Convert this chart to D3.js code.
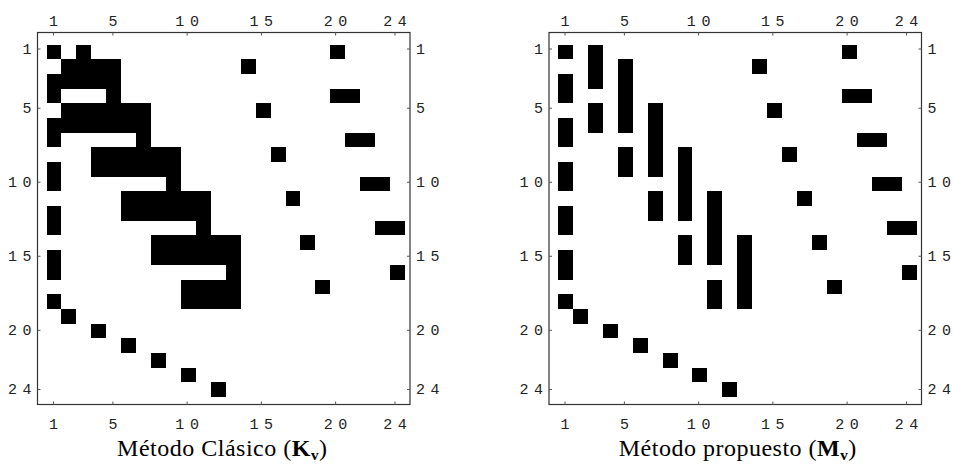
<!DOCTYPE html>
<html>
<head>
<meta charset="utf-8">
<script src="https://cdn.jsdelivr.net/npm/d3@7"></script>
<style>
  html, body { margin: 0; padding: 0; background: #fff; }
  svg { display: block; }
</style>
</head>
<body>
<svg id="chart" width="953" height="471"></svg>
<script>
// ---- data ----
const tickValues = [1, 5, 10, 15, 20, 24];
const matrixSize = 24;

// Método Clásico (K_v): horizontal runs [row, colStart, colEnd]
const kRuns = [
  [1,1,1],[1,3,3],[1,20,20],
  [2,2,5],[2,14,14],
  [3,1,5],
  [4,1,1],[4,5,5],[4,20,21],
  [5,2,7],[5,15,15],
  [6,1,7],
  [7,1,1],[7,7,7],[7,21,22],
  [8,4,9],[8,16,16],
  [9,1,1],[9,4,9],
  [10,1,1],[10,9,9],[10,22,23],
  [11,6,11],[11,17,17],
  [12,1,1],[12,6,11],
  [13,1,1],[13,11,11],[13,23,24],
  [14,8,13],[14,18,18],
  [15,1,1],[15,8,13],
  [16,1,1],[16,13,13],[16,24,24],
  [17,10,13],[17,19,19],
  [18,1,1],[18,10,13],
  [19,2,2],[20,4,4],[21,6,6],[22,8,8],[23,10,10],[24,12,12]
];

// Método propuesto (M_v): vertical runs [col, rowStart, rowEnd]
const mRuns = [
  [1,1,1],[1,3,4],[1,6,7],[1,9,10],[1,12,13],[1,15,16],[1,18,18],
  [3,1,3],[3,5,6],
  [5,2,6],[5,8,9],
  [7,5,9],[7,11,12],
  [9,8,12],[9,14,15],
  [11,11,15],[11,17,18],
  [13,14,18],
  [2,19,19],[4,20,20],[6,21,21],[8,22,22],[10,23,23],[12,24,24],
  [20,1,1],[14,2,2],[20,4,4],[21,4,4],[15,5,5],[21,7,7],[22,7,7],
  [16,8,8],[22,10,10],[23,10,10],[17,11,11],[23,13,13],[24,13,13],
  [18,14,14],[24,16,16],[19,17,17]
];

const titleParts = [
  { pre: "Método Clásico (", bold: "K", sub: "v", post: ")" },
  { pre: "Método propuesto (", bold: "M", sub: "v", post: ")" }
];

// ---- layout ----
const svg = d3.select("#chart");
const panels = [
  { ox: 0,     runs: kRuns, horizontal: true,  title: titleParts[0], tdx: 0 },
  { ox: 511.5, runs: mRuns, horizontal: false, title: titleParts[1], tdx: 4 }
];

const LS = 5.5; // gap between digits of tick labels

panels.forEach(p => {
  const g = svg.append("g").attr("transform", `translate(${p.ox},0)`);
  const fx0 = 37, fx1 = 409.5, fy0 = 32, fy1 = 404;

  const cellX = d3.scaleLinear().domain([0.5, matrixSize + 0.5]).range([46.5, 405]);
  const cellY = d3.scaleLinear().domain([0.5, matrixSize + 0.5]).range([44.5, 397]);
  const tickX = d3.scaleLinear().domain([1, matrixSize]).range([53, 394.5]);
  const tickY = d3.scaleLinear().domain([1, matrixSize]).range([48.5, 389]);

  // cells
  g.append("g").selectAll("rect").data(p.runs).join("rect")
    .attr("shape-rendering", "crispEdges")
    .attr("fill", "#000")
    .attr("x", d => p.horizontal ? cellX(d[1] - 0.5) : cellX(d[0] - 0.5))
    .attr("width", d => p.horizontal ? cellX(d[2] + 0.5) - cellX(d[1] - 0.5) : cellX(d[0] + 0.5) - cellX(d[0] - 0.5))
    .attr("y", d => p.horizontal ? cellY(d[0] - 0.5) : cellY(d[1] - 0.5))
    .attr("height", d => p.horizontal ? cellY(d[0] + 0.5) - cellY(d[0] - 0.5) : cellY(d[2] + 0.5) - cellY(d[1] - 0.5));

  // frame
  g.append("rect")
    .attr("x", fx0 + 0.5).attr("y", fy0 + 0.5)
    .attr("width", fx1 - fx0).attr("height", fy1 - fy0)
    .attr("fill", "none").attr("stroke", "#333").attr("stroke-width", 1.2);

  const styleAxis = (sel) => {
    sel.select(".domain").remove();
    sel.selectAll(".tick line").attr("stroke", "#555");
    sel.selectAll(".tick text")
      .attr("font-family", "'Liberation Mono', 'Courier New', monospace")
      .attr("font-size", 15)
      .attr("fill", "#222")
      .each(function() {
        const txt = d3.select(this);
        const s = txt.text();
        txt.text(null);
        s.split("").forEach((ch, i) => {
          txt.append("tspan").attr("dx", i === 0 ? 0 : LS).text(ch);
        });
      });
  };

  g.append("g").attr("transform", `translate(0,${fy0 + 0.5})`)
    .call(d3.axisTop(tickX).tickValues(tickValues).tickSize(-3).tickPadding(7))
    .call(styleAxis);
  g.append("g").attr("transform", `translate(0,${fy1 + 0.5})`)
    .call(d3.axisBottom(tickX).tickValues(tickValues).tickSize(-3).tickPadding(14))
    .call(styleAxis);
  g.append("g").attr("transform", `translate(${fx0 + 0.5},0)`)
    .call(d3.axisLeft(tickY).tickValues(tickValues).tickSize(-3).tickPadding(6))
    .call(styleAxis);
  g.append("g").attr("transform", `translate(${fx1 + 0.5},0)`)
    .call(d3.axisRight(tickY).tickValues(tickValues).tickSize(-3).tickPadding(6))
    .call(styleAxis);

  // title
  const t = g.append("text")
    .attr("x", (fx0 + fx1) / 2 - 1 + p.tdx)
    .attr("y", 456)
    .attr("text-anchor", "middle")
    .attr("font-family", "'Liberation Serif', 'Times New Roman', serif")
    .attr("font-size", 24)
    .attr("letter-spacing", 0.5)
    .attr("fill", "#000");
  t.append("tspan").text(p.title.pre);
  t.append("tspan").attr("font-weight", "bold").text(p.title.bold);
  t.append("tspan").attr("font-weight", "bold").attr("font-size", 15).attr("dy", 4).text(p.title.sub);
  t.append("tspan").attr("dy", -4).text(p.title.post);
});
</script>
</body>
</html>
